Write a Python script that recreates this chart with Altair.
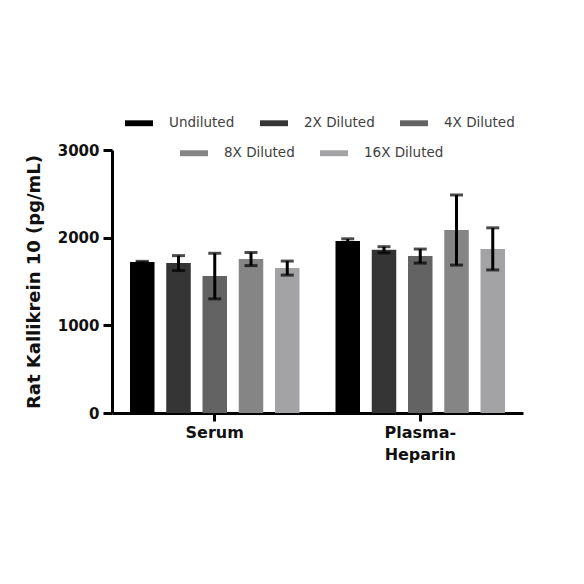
import altair as alt
import pandas as pd

samples = ["Serum", "Plasma-Heparin"]
dilutions = ["Undiluted", "2X Diluted", "4X Diluted", "8X Diluted", "16X Diluted"]
serum_mean = [1722, 1710, 1562, 1756, 1653]
serum_sd = [8, 85, 260, 75, 80]
plasma_mean = [1961, 1862, 1790, 2087, 1872]
plasma_sd = [26, 35, 80, 400, 240]
colors = ["#000000", "#353535", "#636363", "#858585", "#a3a3a5"]

rows = []
for s, means, sds in [(samples[0], serum_mean, serum_sd), (samples[1], plasma_mean, plasma_sd)]:
    for d, m, e in zip(dilutions, means, sds):
        rows.append({"sample": s, "dilution": d, "mean": m, "sd": e})
df = pd.DataFrame(rows)

FONT = "DejaVu Sans"
YTITLE = "Rat Kallikrein 10 (pg/mL)"

x_enc = alt.X(
    "sample:N",
    sort=samples,
    scale=alt.Scale(domain=samples, paddingInner=0, paddingOuter=0),
    axis=alt.Axis(
        title=None,
        labelAngle=0,
        labelExpr="datum.label == 'Plasma-Heparin' ? ['Plasma-', 'Heparin'] : datum.label",
        labelFont=FONT,
        labelFontWeight="bold",
        labelFontSize=16,
        labelColor="#111111",
        labelLineHeight=22,
        labelPadding=3,
        domainColor="black",
        domainWidth=3,
        tickColor="black",
        tickWidth=3,
        tickSize=8,
    ),
)
xoff_enc = alt.XOffset(
    "dilution:N",
    sort=dilutions,
    scale=alt.Scale(domain=dilutions, paddingInner=0.324, paddingOuter=0.4965),
)


def y_enc(field):
    return alt.Y(
        field,
        title=YTITLE,
        scale=alt.Scale(domain=[0, 3000], nice=False),
        axis=alt.Axis(
            values=[0, 1000, 2000, 3000],
            format="d",
            grid=False,
            labelFont=FONT,
            labelFontWeight="bold",
            labelFontSize=15,
            labelColor="#111111",
            labelPadding=4,
            domainColor="black",
            domainWidth=3,
            tickColor="black",
            tickWidth=3,
            tickSize=9,
            titleFont=FONT,
            titleFontWeight="bold",
            titleFontSize=18,
            titleColor="#111111",
            titlePadding=14,
        ),
    )


def legend(x, y):
    return alt.Legend(
        title=None,
        orient="none",
        legendX=x,
        legendY=y,
        direction="horizontal",
        symbolType="M-1,-0.21H1V0.21H-1Z",
        symbolSize=784,
        symbolStrokeWidth=0,
        labelFont=FONT,
        labelFontSize=13.5,
        labelColor="#404040",
        labelOffset=16,
        columnPadding=25,
        padding=0,
    )


base = alt.Chart(df).encode(x=x_enc, xOffset=xoff_enc)

bars1 = base.transform_filter(
    alt.FieldOneOfPredicate(field="dilution", oneOf=dilutions[:3])
).mark_bar().encode(
    y=y_enc("mean:Q"),
    color=alt.Color(
        "dilution:N",
        sort=dilutions[:3],
        scale=alt.Scale(domain=dilutions[:3], range=colors[:3]),
        legend=legend(13, -41),
    ),
)

bars2 = base.transform_filter(
    alt.FieldOneOfPredicate(field="dilution", oneOf=dilutions[3:])
).mark_bar().encode(
    y=y_enc("mean:Q"),
    color=alt.Color(
        "dilution:N",
        sort=dilutions[3:],
        scale=alt.Scale(domain=dilutions[3:], range=colors[3:]),
        legend=legend(68, -11),
    ),
)

err = base.transform_calculate(
    lo="datum.mean - datum.sd", hi="datum.mean + datum.sd"
)
rule = err.mark_rule(color="black", strokeWidth=3).encode(
    y=y_enc("lo:Q"), y2="hi:Q"
)
cap_hi = err.mark_tick(color="black", size=13, thickness=3).encode(y=y_enc("hi:Q"))
cap_lo = err.mark_tick(color="black", size=13, thickness=3).encode(y=y_enc("lo:Q"))

chart = (
    alt.layer(bars1, bars2, rule, cap_hi, cap_lo)
    .resolve_scale(color="independent")
    .properties(
        width=411,
        height=263,
        autosize=alt.AutoSizeParams(type="none"),
        padding={"left": 104, "top": 142, "right": 53, "bottom": 163},
        background="white",
    )
    .configure_view(stroke=None)
)

chart.save("out.html", embed_options={"renderer": "svg", "actions": False})
